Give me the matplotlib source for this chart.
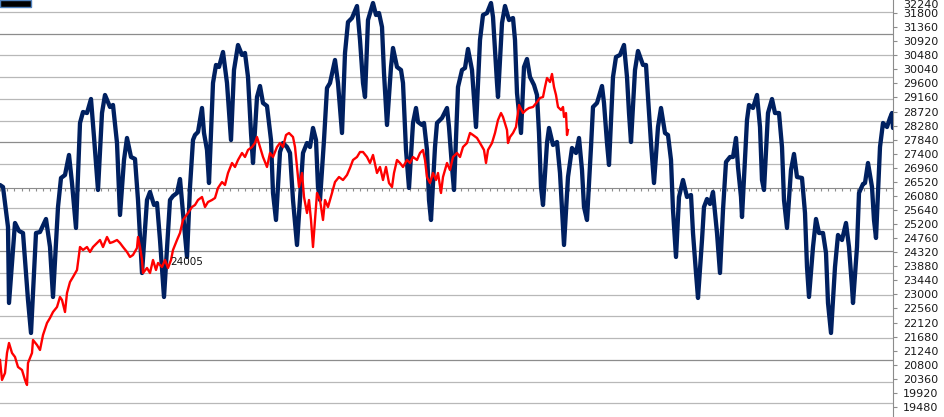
import numpy as np
import matplotlib
matplotlib.use('Agg')
import matplotlib.pyplot as plt
from matplotlib.patches import Rectangle

# cycle projection (navy line): bar index, value
cyc_x = [0, 3, 8, 9, 15, 19, 23, 28, 31, 36, 40, 46, 50, 53, 58, 61, 65, 69, 72, 76,
         80, 83, 87, 91, 94, 98, 102, 105, 110, 113, 117, 120, 124, 127, 131, 135, 138, 142,
         147, 150, 154, 157, 160, 164, 170, 173, 177, 180, 183, 187, 190, 193, 195, 198, 202,
         204, 207, 209, 213, 216, 219, 223, 227, 231, 234, 238, 242, 245, 248, 251, 253,
         257, 260, 263, 267, 271, 273, 276, 280, 283, 287, 290, 293, 297, 303, 307, 310,
         313, 316, 318, 320, 324, 327, 330, 335, 338, 342, 345, 348, 352, 357, 360, 363,
         365, 368, 373, 376, 379, 382, 384, 387, 391, 393, 397, 401, 403, 406, 409, 413,
         416, 418, 422, 424, 427, 429, 431, 435, 437, 442, 447, 449, 452, 454, 458, 462,
         465, 468, 472, 476, 480, 483, 487, 491, 493, 497, 498, 502, 505, 509, 513, 515,
         517, 521, 524, 527, 530, 534, 537, 539, 541, 543, 547, 549, 553, 557, 560, 562,
         564, 568, 572, 576, 579, 582, 584, 587, 591, 593, 597, 602, 604, 607, 609, 613,
         616, 620, 624, 627, 629, 631, 635, 638, 643, 646, 648, 651, 654, 658, 661, 665,
         668, 671, 673, 676, 679, 683, 687, 691, 693, 696, 698, 702, 704, 707, 710, 713,
         717, 720, 723, 726, 730, 733, 736, 738, 741, 742, 747, 749, 753, 757, 760, 762,
         764, 768, 772, 775, 779, 782, 784, 787, 791, 794, 797, 802, 805, 807, 809, 813,
         816, 819, 823, 826, 828, 831, 835, 838, 842, 846, 849, 852, 853, 857, 859, 863,
         865, 868, 872, 874, 876, 880, 883, 887, 890, 892, 893]
cyc_y = [26422, 26359, 25109, 22732, 25234, 24984, 24921, 22826, 21794, 24921, 24952, 25359,
         24483, 22920, 25734, 26641, 26735, 27361, 26484, 25078, 28361, 28704, 28673, 29111,
         27923, 26266, 28673, 29237, 28861, 28924, 27735, 25484, 27204, 27892, 27298, 27236,
         25953, 23670, 25953, 26203, 25797, 25859, 24702, 22920, 25953, 26078, 26172, 26609,
         25546, 24171, 26360, 27829, 27985, 28079, 28830, 28048, 27517, 26484, 29611, 30175,
         30112, 30581, 29611, 27829, 30018, 30800, 30488, 30550, 29799, 28048, 27110, 29174,
         29517, 28986, 28892, 27829, 26172, 25328, 27454, 27735, 27610, 27423, 25953, 24546,
         27423, 27735, 27610, 28205, 27829, 26359, 25953, 27829, 29455, 29611, 30331, 29611,
         28048, 30550, 31517, 31644, 32019, 30956, 29611, 29174, 31580, 32113, 31738, 31800,
         31363, 29924, 28299, 30112, 30706, 30112, 30018, 29611, 27517, 26329, 28361, 28830,
         28392, 28299, 28361, 27517, 25953, 25328, 27610, 28361, 28518, 28830, 28236, 26985,
         26266, 29486, 30018, 30081, 30675, 30018, 28236, 30956, 31738, 31800, 32113, 31675,
         29611, 29174, 31486, 32019, 31580, 31644, 30956, 29299, 28048, 30112, 30362, 29799,
         29549, 29237, 28048, 26359, 25797, 27735, 28205, 27673, 27766, 26797, 25640, 24546,
         26672, 27579, 27423, 27892, 26891, 25734, 25328, 27610, 28861, 28986, 29517, 28986,
         27735, 27048, 29799, 30425, 30488, 30800, 29799, 28673, 27766, 30018, 30613, 30175,
         30175, 29174, 27735, 26484, 28236, 28830, 28048, 27985, 27204, 25640, 24171, 26047,
         26578, 26047, 26110, 24921, 23670, 22889, 24702, 25734, 25984, 25828, 26203, 24921,
         23670, 25640, 27141, 27298, 27298, 27892, 26985, 26047, 25421, 28455, 28924, 28830,
         29237, 28236, 26578, 26266, 28673, 29111, 28673, 28673, 27610, 25953, 25078, 26891,
         27392, 26672, 26641, 25546, 23858, 22920, 24483, 25359, 24921, 24921, 24296, 22732,
         21794, 23858, 24859, 24702, 25234, 24483, 23232, 22732, 24483, 26172, 26453, 26484,
         27110, 26359, 25328, 24765, 27610, 28361, 28236, 28518, 28673, 28205]

# index price (red line): bar index, close
px_x = [0, 2, 5, 7, 9, 12, 15, 18, 22, 25, 27, 28, 32, 33, 37, 40, 43, 47, 50, 53, 57, 60,
        62, 65, 67, 70, 73, 77, 80, 83, 87, 90, 93, 97, 100, 103, 107, 110, 113, 117, 120,
        123, 127, 130, 133, 137, 138, 140, 142, 143, 147, 150, 153, 156, 158, 162, 165, 168,
        171, 173, 177, 180, 183, 188, 192, 195, 198, 202, 205, 208, 212, 215, 218, 222, 225,
        228, 232, 235, 238, 242, 245, 248, 252, 255, 257, 260, 263, 267, 270, 273, 277, 280,
        283, 286, 289, 293, 295, 297, 299, 302, 304, 307, 309, 311, 313, 315, 317, 320, 323,
        325, 328, 332, 335, 339, 343, 347, 350, 353, 357, 360, 363, 367, 370, 373, 377, 380,
        383, 386, 389, 392, 394, 397, 400, 403, 407, 410, 413, 417, 420, 423, 425, 427, 430,
        433, 436, 438, 441, 443, 447, 450, 453, 457, 460, 463, 467, 470, 473, 477, 480, 484,
        486, 488, 492, 495, 498, 501, 503, 507, 508, 510, 513, 516, 519, 523, 526, 529, 533,
        537, 540, 543, 545, 547, 550, 552, 554, 556, 558, 561, 563, 564, 566, 567, 568]
px_y = [20950, 20325, 20543, 21169, 21481, 21169, 21044, 20731, 20637, 20325, 20169, 20856,
        21169, 21575, 21419, 21263, 21731, 22107, 22264, 22450, 22607, 22920, 22826, 22450,
        23045, 23388, 23545, 23764, 24483, 24390, 24483, 24327, 24483, 24608, 24702, 24483,
        24796, 24608, 24639, 24702, 24608, 24483, 24327, 24171, 24234, 24453, 24796, 24483,
        24077, 23670, 23827, 23670, 24077, 23764, 23983, 23858, 24077, 23827, 24077, 24390,
        24702, 24921, 25328, 25546, 25734, 25797, 25953, 26047, 25734, 25890, 25953, 26016,
        26329, 26515, 26422, 26797, 27110, 26985, 27204, 27423, 27298, 27517, 27610, 27735,
        27923, 27610, 27298, 26985, 27423, 27298, 27610, 27735, 27610, 27985, 28048, 27923,
        27610, 26985, 26359, 26797, 26047, 25546, 25953, 25328, 24483, 25328, 26172, 25953,
        25328, 25953, 25734, 26172, 26515, 26672, 26578, 26735, 26954, 27204, 27298, 27454,
        27454, 27298, 27110, 27361, 26797, 26985, 26578, 26985, 26484, 26359, 26797, 27204,
        27110, 26985, 27204, 27110, 27298, 27204, 27423, 27517, 27204, 26672, 26484, 26797,
        26578, 26797, 26172, 26672, 27110, 26891, 27298, 27423, 27298, 27610, 27735, 28048,
        27985, 27892, 27735, 27517, 27110, 27517, 27735, 28048, 28455, 28673, 28548, 28142,
        27735, 27923, 28048, 28236, 28924, 28673, 28767, 28830, 28861, 29017, 29143, 29174,
        29486, 29768, 29642, 29893, 29486, 29237, 28861, 28767, 28861, 28548, 28673, 27985,
        28142]

tick_vals = np.arange(19480, 31801, 440)
top_label = '32240'
mark_x, mark_txt = 170, '24005'

fig = plt.figure(figsize=(9.45, 4.17), dpi=100)
ax = fig.add_axes([0, 0, 893 / 945, 1])
ax.set_xlim(0, 893)
ax.set_ylim(19167, 32207)

# horizontal grid, every fifth line darker
grid = 31832 - 680.1 * np.arange(19)
for k, g in enumerate(grid):
    if k == 8:
        continue
    ax.axhline(g, color='#8c8c8c' if k % 5 == 1 else '#b8b8b8', lw=0.9, zorder=1)

ax.plot(cyc_x, cyc_y, color='#002060', lw=3.1, solid_joinstyle='round',
        solid_capstyle='round', zorder=3)
ax.plot(px_x, px_y, color='#ff0000', lw=1.7, zorder=4)
ax.text(mark_x, 24005, mark_txt, fontsize=7.5, color='#111111', ha='left', va='center',
        zorder=5)

for s in ['top', 'left']:
    ax.spines[s].set_visible(False)
ax.spines['right'].set_color('#8c8c8c')
ax.spines['bottom'].set_position(('data', 26319))
ax.spines['bottom'].set_color('#8c8c8c')
ax.spines['bottom'].set_zorder(2)

ax.set_xticks(np.arange(0, 893, 7.2))
ax.tick_params(axis='x', direction='out', length=2.5, color='#8c8c8c', labelbottom=False)
ax.yaxis.tick_right()
ax.set_yticks(tick_vals)
ax.tick_params(axis='y', direction='out', length=3, color='#8c8c8c', pad=4,
               labelsize=8, labelcolor='#1a1a1a')
# top label sits right at the edge of the frame
ax.text(1.0 + 10 / 893, 0.999, top_label, transform=ax.transAxes, fontsize=8,
        color='#1a1a1a', ha='left', va='top', clip_on=False)

fig.add_artist(Rectangle((0, 1 - 7 / 417), 31 / 945, 7 / 417, transform=fig.transFigure,
                         fc='black', ec='#4f81bd', lw=1))

fig.savefig('out.png', dpi=100)
